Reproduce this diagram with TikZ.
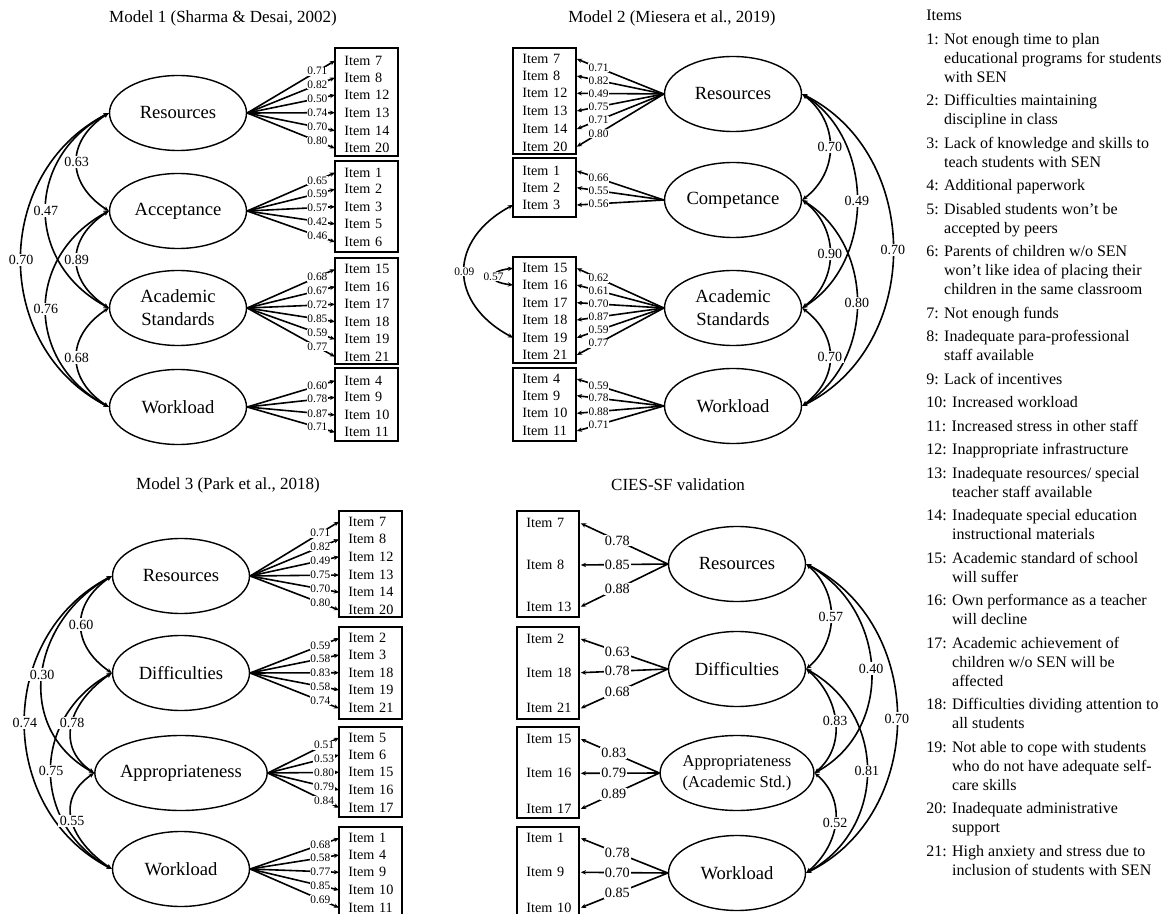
\documentclass[tikz,border=0pt]{standalone}
\usepackage{fontspec}
\setmainfont{Liberation Serif}
\usetikzlibrary{shapes.geometric,arrows.meta}
\newcommand\lcorr[5]{\draw[corr] (#1.west) .. controls +(-#3,#4) and +(-#3,-#4) .. (#2.west) node[cnum,pos=0.5]{#5};}
\newcommand\rcorr[5]{\draw[corr] (#1.east) .. controls +(#3,#4) and +(#3,-#4) .. (#2.east) node[cnum,pos=0.5]{#5};}
\begin{document}
\begin{tikzpicture}[x=0.5pt,y=-0.5pt,
 lat/.style={ellipse,draw,line width=0.7pt,minimum width=68.5pt,minimum height=37.5pt,inner sep=0pt,align=center,font=\fontsize{9.3}{11.5}\selectfont},
 itm/.style={anchor=west,inner xsep=4.5pt,inner ysep=0pt,text width=22.5pt,align=left,font=\fontsize{7.1}{8}\selectfont},
 boxr/.style={draw,line width=0.7pt},
 load/.style={line width=0.8pt,-{Stealth[length=2.6pt,width=2.2pt]}},
 lnum/.style={fill=white,inner sep=0.3pt,font=\fontsize{5.7}{6}\selectfont},
 lnumb/.style={fill=white,inner sep=0.5pt,font=\fontsize{7.1}{8}\selectfont},
 cnum/.style={fill=white,inner sep=0.8pt,font=\fontsize{7}{8}\selectfont},
 corr/.style={line width=0.8pt,{Stealth[length=2.6pt,width=2.2pt]}-{Stealth[length=2.6pt,width=2.2pt]}},
 ttl/.style={font=\fontsize{8.5}{10}\selectfont}]
\useasboundingbox (0,0) rectangle (1162,914);
\fill[white] (0,0) rectangle (1162,914);

% titles
\node[ttl] (t1) at (223,18) {Model 1 (Sharma \& Desai, 2002)};
\node[ttl] (t2) at (672,18) {Model 2 (Miesera et al., 2019)};
\node[ttl] (t3) at (228,485) {Model 3 (Park et al., 2018)};
\node[ttl] (t4) at (678,485) {CIES-SF validation};

% ---------- Model 1 ----------
\node[lat] (R1) at (178,113) {Resources};
\node[lat] (A1) at (178,211) {Acceptance};
\node[lat] (S1) at (178,308) {Academic\\Standards};
\node[lat] (W1) at (178,407) {Workload};
\draw[boxr] (335,48) rectangle (398,156);
\draw[boxr] (335,161) rectangle (398,252);
\draw[boxr] (335,258) rectangle (398,364);
\draw[boxr] (335,368) rectangle (398,441);
\foreach \n/\y/\v in {7/60.7/0.71,8/77.7/0.82,12/95/0.50,13/112.7/0.74,14/130.7/0.70,20/148.3/0.80}
 {\node[itm] (m1i\n) at (335,\y) {Item \n}; \draw[load] (R1.east) -- (m1i\n.west) node[lnum,pos=0.8]{\v};}
\foreach \n/\y/\v in {1/172.7/0.65,2/189.3/0.59,3/206.7/0.57,5/224/0.42,6/242/0.46}
 {\node[itm] (m1i\n) at (335,\y) {Item \n}; \draw[load] (A1.east) -- (m1i\n.west) node[lnum,pos=0.8]{\v};}
\foreach \n/\y/\v in {15/269.3/0.68,16/286.7/0.67,17/304.3/0.72,18/321.7/0.85,19/339.3/0.59,21/356.7/0.77}
 {\node[itm] (m1i\n) at (335,\y) {Item \n}; \draw[load] (S1.east) -- (m1i\n.west) node[lnum,pos=0.8]{\v};}
\foreach \n/\y/\v in {4/380.7/0.60,9/397.3/0.78,10/415/0.87,11/432.3/0.71}
 {\node[itm] (m1i\n) at (335,\y) {Item \n}; \draw[load] (W1.east) -- (m1i\n.west) node[lnum,pos=0.8]{\v};}
\lcorr{R1}{W1}{117}{60}{0.70}
\lcorr{R1}{S1}{84}{45}{0.47}
\lcorr{A1}{W1}{84}{45}{0.76}
\lcorr{R1}{A1}{43}{28}{0.63}
\lcorr{A1}{S1}{43}{28}{0.89}
\lcorr{S1}{W1}{43}{28}{0.68}

% ---------- Model 2 ----------
\node[lat] (R2) at (733,94) {Resources};
\node[lat] (C2) at (733,200) {Competance};
\node[lat] (S2) at (733,308) {Academic\\Standards};
\node[lat] (W2) at (733,406) {Workload};
\draw[boxr] (513,48) rectangle (576,154);
\draw[boxr] (513,158) rectangle (576,217);
\draw[boxr] (513,257) rectangle (576,363);
\draw[boxr] (513,368) rectangle (576,441);
\foreach \n/\y/\v in {7/59/0.71,8/76/0.82,12/93.3/0.49,13/111/0.75,14/129/0.71,20/146.7/0.80}
 {\node[itm] (m2i\n) at (513,\y) {Item \n}; \draw[load] (R2.west) -- (m2i\n.east) node[lnum,pos=0.75]{\v};}
\foreach \n/\y/\v in {1/171/0.66,2/187.7/0.55,3/205/0.56}
 {\node[itm] (m2i\n) at (513,\y) {Item \n}; \draw[load] (C2.west) -- (m2i\n.east) node[lnum,pos=0.75]{\v};}
\foreach \n/\y/\v in {15/268.3/0.62,16/285/0.61,17/302.7/0.70,18/320/0.87,19/337.7/0.59,21/355/0.77}
 {\node[itm] (m2i\n) at (513,\y) {Item \n}; \draw[load] (S2.west) -- (m2i\n.east) node[lnum,pos=0.75]{\v};}
\foreach \n/\y/\v in {4/379/0.59,9/395.7/0.78,10/413.3/0.88,11/431/0.71}
 {\node[itm] (m2i\n) at (513,\y) {Item \n}; \draw[load] (W2.west) -- (m2i\n.east) node[lnum,pos=0.75]{\v};}
\rcorr{R2}{W2}{121}{60}{0.70}
\rcorr{R2}{S2}{73}{45}{0.49}
\rcorr{C2}{W2}{73}{45}{0.80}
\rcorr{R2}{C2}{37}{28}{0.70}
\rcorr{C2}{S2}{37}{28}{0.90}
\rcorr{S2}{W2}{37}{28}{0.70}
\draw[corr] (m2i3.west) .. controls +(-65,35) and +(-65,-35) .. (m2i19.west) node[lnum,pos=0.5]{0.09};
\draw[corr] (m2i15.west) .. controls +(-26,3) and +(-26,-3) .. (m2i16.west) node[lnum,pos=0.5]{0.57};

% ---------- Model 3 ----------
\node[lat] (R3) at (181,576) {Resources};
\node[lat] (D3) at (181,673) {Difficulties};
\node[lat] (P3) at (181,773) {Appropriateness};
\node[lat] (W3) at (181,869) {Workload};
\draw[boxr] (339,511) rectangle (402,617);
\draw[boxr] (339,627) rectangle (402,719);
\draw[boxr] (339,727) rectangle (402,817);
\draw[boxr] (339,920) -- (339,827) -- (402,827) -- (402,920);
\foreach \n/\y/\v in {7/521.7/0.71,8/539.3/0.82,12/556.7/0.49,13/575/0.75,14/592.3/0.70,20/610/0.80}
 {\node[itm] (m3i\n) at (339,\y) {Item \n}; \draw[load] (R3.east) -- (m3i\n.west) node[lnum,pos=0.79]{\v};}
\foreach \n/\y/\v in {2/638.3/0.59,3/655/0.58,18/672.7/0.83,19/690/0.58,21/708.3/0.74}
 {\node[itm] (m3i\n) at (339,\y) {Item \n}; \draw[load] (D3.east) -- (m3i\n.west) node[lnum,pos=0.79]{\v};}
\foreach \n/\y/\v in {5/737.7/0.51,6/755/0.53,15/772.3/0.80,16/790/0.79,17/807.7/0.84}
 {\node[itm] (m3i\n) at (339,\y) {Item \n}; \draw[load] (P3.east) -- (m3i\n.west) node[lnum,pos=0.79]{\v};}
\foreach \n/\y/\v in {1/838.3/0.68,4/855/0.58,9/872.3/0.77,10/890/0.85,11/907.7/0.69}
 {\node[itm] (m3i\n) at (339,\y) {Item \n}; \draw[load] (W3.east) -- (m3i\n.west) node[lnum,pos=0.79]{\v};}
\lcorr{R3}{W3}{116}{60}{0.74}
\lcorr{R3}{P3}{81}{45}{0.30}
\lcorr{D3}{W3}{81}{45}{0.75}
\lcorr{R3}{D3}{41}{28}{0.60}
\lcorr{D3}{P3}{41}{28}{0.78}
\lcorr{P3}{W3}{41}{28}{0.55}

% ---------- CIES-SF ----------
\node[lat] (R4) at (737,564) {Resources};
\node[lat] (D4) at (737,669) {Difficulties};
\node[lat,font=\fontsize{8.3}{10.5}\selectfont] (P4) at (737,773) {Appropriateness\\(Academic Std.)};
\node[lat] (W4) at (737,873) {Workload};
\draw[boxr] (517,511) rectangle (579,617);
\draw[boxr] (517,627) rectangle (579,719);
\draw[boxr] (517,727) rectangle (579,818);
\draw[boxr] (517,920) -- (517,827) -- (579,827) -- (579,920);
\foreach \n/\y/\v in {7/523.3/0.78,8/565/0.85,13/606.7/0.88}
 {\node[itm] (m4i\n) at (517,\y) {Item \n}; \draw[load] (R4.west) -- (m4i\n.east) node[lnumb,pos=0.58]{\v};}
\foreach \n/\y/\v in {2/639/0.63,18/672.7/0.78,21/708.3/0.68}
 {\node[itm] (m4i\n) at (517,\y) {Item \n}; \draw[load] (D4.west) -- (m4i\n.east) node[lnumb,pos=0.58]{\v};}
\foreach \n/\y/\v in {15/739/0.83,16/773.3/0.79,17/809/0.89}
 {\node[itm] (m4i\n) at (517,\y) {Item \n}; \draw[load] (P4.west) -- (m4i\n.east) node[lnumb,pos=0.58]{\v};}
\foreach \n/\y/\v in {1/838.3/0.78,9/872.3/0.70,10/907.7/0.85}
 {\node[itm] (m4i\n) at (517,\y) {Item \n}; \draw[load] (W4.west) -- (m4i\n.east) node[lnumb,pos=0.58]{\v};}
\rcorr{R4}{W4}{121}{60}{0.70}
\rcorr{R4}{P4}{81}{45}{0.40}
\rcorr{D4}{W4}{81}{45}{0.81}
\rcorr{R4}{D4}{33}{28}{0.57}
\rcorr{D4}{P4}{33}{28}{0.83}
\rcorr{P4}{W4}{33}{28}{0.52}

% ---------- Items list ----------
\node[anchor=north west,inner sep=0pt,align=left,font=\fontsize{8}{9.5}\selectfont] (items) at (926,9.7) {Items\\[2.25pt]
1: Not enough time to plan\\\phantom{1: }educational programs for students\\\phantom{1: }with SEN\\[2.25pt]
2: Difficulties maintaining\\\phantom{2: }discipline in class\\[2.25pt]
3: Lack of knowledge and skills to\\\phantom{3: }teach students with SEN\\[2.25pt]
4: Additional paperwork\\[2.25pt]
5: Disabled students won’t be\\\phantom{5: }accepted by peers\\[2.25pt]
6: Parents of children w/o SEN\\\phantom{6: }won’t like idea of placing their\\\phantom{6: }children in the same classroom\\[2.25pt]
7: Not enough funds\\[2.25pt]
8: Inadequate para-professional\\\phantom{8: }staff available\\[2.25pt]
9: Lack of incentives\\[2.25pt]
10: Increased workload\\[2.25pt]
11: Increased stress in other staff\\[2.25pt]
12: Inappropriate infrastructure\\[2.25pt]
13: Inadequate resources/ special\\\phantom{13: }teacher staff available\\[2.25pt]
14: Inadequate special education\\\phantom{14: }instructional materials\\[2.25pt]
15: Academic standard of school\\\phantom{15: }will suffer\\[2.25pt]
16: Own performance as a teacher\\\phantom{16: }will decline\\[2.25pt]
17: Academic achievement of\\\phantom{17: }children w/o SEN will be\\\phantom{17: }affected\\[2.25pt]
18: Difficulties dividing attention to\\\phantom{18: }all students\\[2.25pt]
19: Not able to cope with students\\\phantom{19: }who do not have adequate self-\\\phantom{19: }care skills\\[2.25pt]
20: Inadequate administrative\\\phantom{20: }support\\[2.25pt]
21: High anxiety and stress due to\\\phantom{21: }inclusion of students with SEN};
\end{tikzpicture}
\end{document}
